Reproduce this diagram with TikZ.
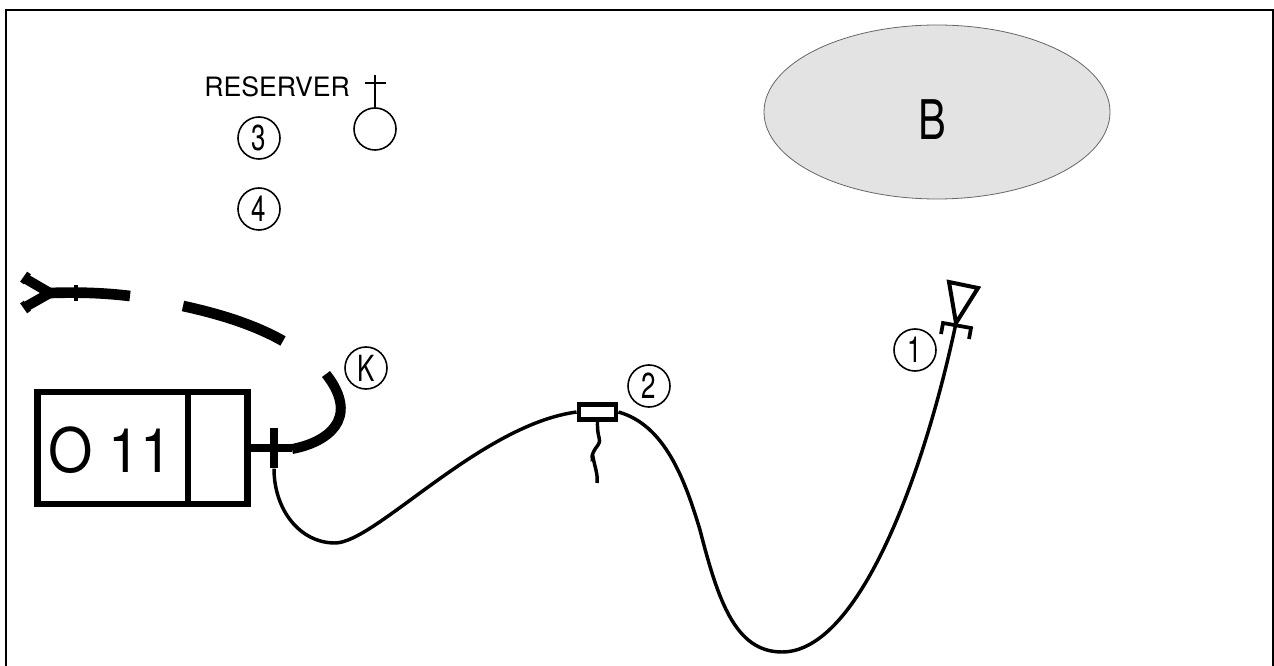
\documentclass[tikz,border=0pt]{standalone}
\usepackage{fontspec}
\setmainfont{TeX Gyre Heros}
\begin{document}
\begin{tikzpicture}[x=0.75pt,y=-0.75pt,
  numcircle/.style={circle,draw,line width=1.2pt,minimum size=31.5pt,inner sep=0pt},
  numtext/.style={font=\fontsize{27}{27}\selectfont,xscale=0.72},
  cable/.style={line width=2.6pt},
  heavy/.style={line width=7.5pt},
  unitbox/.style={draw,line width=5pt,inner sep=0pt}]
\useasboundingbox (0,0) rectangle (1274,666);
% frame
\coordinate (fa) at (6,666); \coordinate (fb) at (6,10);
\coordinate (fc) at (1273,10); \coordinate (fd) at (1273,666);
\draw[line width=1.6pt] (fa) -- (fb) -- (fc) -- (fd);
% ellipse B
\draw[fill=black!11,line width=0.6pt,draw=black!60] (937,112) ellipse [x radius=173,y radius=87];
\node[font=\fontsize{41}{41}\selectfont,xscale=0.76] (B) at (932,120) {B};
% reserve
\node[anchor=base west,font=\fontsize{20}{20}\selectfont,inner sep=0pt] (res) at (204,97) {RESERVER};
\node[numcircle] (c0) at (375,129) {};
\coordinate (crossT) at (375,75);
\coordinate (crossL) at (365,83); \coordinate (crossR) at (386,83);
\draw[line width=1.2pt] (c0.north) -- (crossT);
\draw[line width=1.2pt] (crossL) -- (crossR);
\node[numcircle] (c3) at (259,138) {}; \node[numtext] at (c3) {3};
\node[numcircle] (c4) at (259,209) {}; \node[numtext] at (c4) {4};
\node[numcircle] (cK) at (366,368) {}; \node[numtext] at (cK) {K};
\node[numcircle] (c2) at (649,386) {}; \node[numtext] at (c2) {2};
\node[numcircle] (c1) at (915,350) {}; \node[numtext] at (c1) {1};
% Y connector and broken heavy cable
\coordinate (yj) at (50,293); \coordinate (ya) at (26,279); \coordinate (yb) at (27,306);
\coordinate (ye) at (130,296);
\coordinate (s2a) at (183,306); \coordinate (s2b) at (283,341);
\draw[line width=7.5pt] (ya) -- (yj) -- (yb);
\draw[line width=8pt] (yj) .. controls (80,292) and (105,293) .. (ye);
\draw[line width=3.2pt] (76,285) -- (76,301);
\draw[line width=3.4pt] (29,273) -- (22,283);
\draw[line width=3.4pt] (22,302) -- (29,312);
\draw[heavy,line width=8pt] (s2a) .. controls (220,314) and (255,325) .. (s2b);
% box
\node[unitbox,minimum width=157.5pt,minimum height=84pt] (box) at (142.5,448) {};
\coordinate (divT) at (188,392); \coordinate (divB) at (188,504);
\draw[line width=5pt] (divT) -- (divB);
\node[font=\fontsize{46}{46}\selectfont,xscale=0.93] (o11) at (110.5,450.5) {O 11};
% tick and stub
\node[fill=black,inner sep=0pt,minimum width=5.5pt,minimum height=30.5pt] (tick) at (274,448) {};
\draw[line width=5.4pt] (box.east) -- (tick.center) -- (292,448);
\coordinate (kA) at (292,449); \coordinate (kB) at (326,374);
\draw[heavy] (kA) .. controls (325,443) and (362,420) .. (kB);
% main cable
\node[draw,fill=white,line width=3.4pt,minimum width=28pt,minimum height=11pt,inner sep=0pt] (clip) at (597.5,412) {};
\coordinate (low) at (335,543); \coordinate (bot) at (782,652); \coordinate (mid) at (700,530);
\coordinate (tj) at (956,323);
\draw[cable] (tick.south) .. controls (274,510) and (300,543) .. (low)
  .. controls (375,543) and (480,425) .. (clip.west);
\draw[cable] (clip.east) .. controls (665,425) and (685,480) .. (mid)
  .. controls (718,600) and (735,652) .. (bot)
  .. controls (860,652) and (925,470) .. (tj);
\coordinate (w1) at (593,457); \coordinate (w2) at (597,483);
\draw[line width=2.6pt] (clip.south) .. controls (597,440) and (602,438) .. (598,445)
  .. controls (590,455) and (592,460) .. (w1) .. controls (595,468) and (598,474) .. (w2);
% antenna
\coordinate (t1) at (949,282); \coordinate (t2) at (978,288);
\draw[line width=3pt,line join=miter] (t1) -- (t2) -- (tj) -- cycle;
\coordinate (b1) at (941,334); \coordinate (b2) at (943,323); \coordinate (b3) at (971,328); \coordinate (b4) at (969,339);
\draw[line width=2.8pt] (b1) -- (b2) -- (b3) -- (b4);
\end{tikzpicture}
\end{document}
